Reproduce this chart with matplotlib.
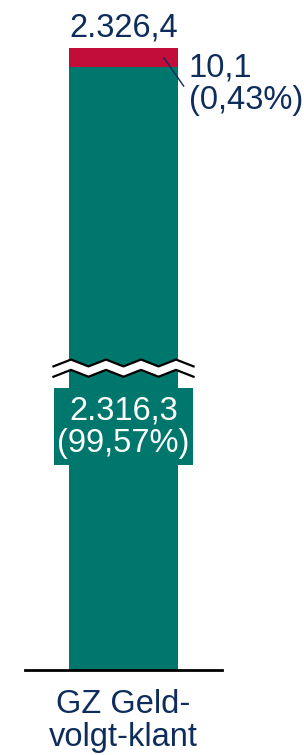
import numpy as np
import matplotlib.pyplot as plt
import matplotlib.transforms as mtransforms
from matplotlib.patches import Rectangle, Polygon

# data
category = ['GZ Geld-\nvolgt-klant']
bottom_vals = [2316.3]
top_vals = [10.1]
total_vals = [2326.4]
bottom_labels = ['2.316,3\n(99,57%)']
top_labels = ['10,1\n(0,43%)']
total_labels = ['2.326,4']

teal = '#00776C'
red = '#C20D3B'
navy = '#0E2D5C'

plt.rcParams['font.family'] = ['Liberation Sans', 'DejaVu Sans']
fs = 23.5

# broken axis: values between L and U are squeezed into a small gap
L, U, gap = 160.0, 2155.0, 5.0

def fwd(y):
    y = np.asarray(y, dtype=float)
    return np.where(y <= L, y,
           np.where(y >= U, y - (U - L) + gap, L + (y - L) * gap / (U - L)))

def inv(d):
    d = np.asarray(d, dtype=float)
    return np.where(d <= L, d,
           np.where(d >= L + gap, d + (U - L) - gap, L + (d - L) * (U - L) / gap))

W, H = 304, 755
fig = plt.figure(figsize=(W / 100, H / 100), dpi=100)
ax = fig.add_axes([25 / W, (H - 670) / H, 197 / W, 622 / H])
ax.set_yscale('function', functions=(fwd, inv))
ax.set_xlim(-0.9, 0.9)
ax.set_ylim(0, total_vals[0])

x = np.arange(len(category))
ax.bar(x, bottom_vals, width=1.0, color=teal, zorder=2)
ax.bar(x, top_vals, bottom=bottom_vals, width=1.0, color=red, zorder=2)

for spine in ['top', 'left', 'right']:
    ax.spines[spine].set_visible(False)
ax.spines['bottom'].set_linewidth(2)
ax.spines['bottom'].set_color('black')
ax.set_yticks([])
ax.set_xticks(x)
ax.set_xticklabels(category, fontsize=fs, color=navy, linespacing=1.08)
ax.tick_params(axis='x', length=0, pad=14)

# break mark (zigzag band)
bt = mtransforms.blended_transform_factory(ax.transData, ax.transAxes)
wx = np.linspace(-0.64, 0.64, 9)
amp = 0.0055
zz = np.array([-1, 1] * 4 + [-1]) * amp
top_line = 0.4936 + zz
bot_line = 0.4770 + zz
band = np.concatenate([np.column_stack([wx, top_line]),
                       np.column_stack([wx[::-1], bot_line[::-1]])])
ax.add_patch(Polygon(band, closed=True, facecolor='white', edgecolor='none',
                     transform=bt, zorder=3))
ax.plot(wx, top_line, color='black', lw=1.6, transform=bt, zorder=4, clip_on=False)
ax.plot(wx, bot_line, color='black', lw=1.6, transform=bt, zorder=4, clip_on=False)

# label box for the bottom segment
ax.add_patch(Rectangle((0.147, 0.3296), 0.706, 0.1235, transform=ax.transAxes,
                       facecolor=teal, edgecolor='none', zorder=3, clip_on=False))
ax.text(x[0], 0.3905, bottom_labels[0], transform=bt, ha='center', va='center',
        fontsize=fs, color='white', linespacing=1.05, zorder=5)

# total on top
ax.annotate(total_labels[0], xy=(x[0], total_vals[0]), xytext=(0, 8.6),
            textcoords='offset points', ha='center', va='baseline',
            fontsize=fs, color=navy, annotation_clip=False)

# small red segment label with leader line
ax.plot([0.37, 0.55], [2321.0, 2305.8], color=navy, lw=1, zorder=5, clip_on=False)
ax.text(0.595, 2306.9, top_labels[0], ha='left', va='center', fontsize=fs,
        color=navy, linespacing=1.05, clip_on=False)

fig.savefig('out.png', dpi=100)
